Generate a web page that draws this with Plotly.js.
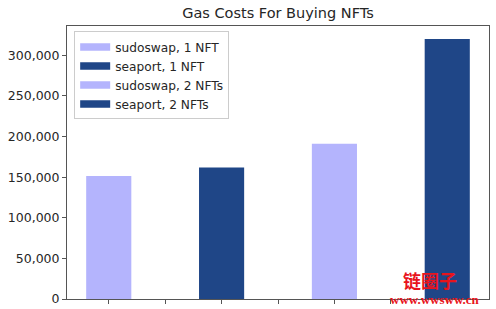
<!DOCTYPE html>
<html>
<head>
<meta charset="utf-8">
<script src="https://cdn.plot.ly/plotly-3.0.1.min.js"></script>
<style>html,body{margin:0;padding:0;background:#fff;}#chart{width:496px;height:309px;}</style>
</head>
<body>
<div id="chart"></div>
<script>
const seriesNames = ['sudoswap, 1 NFT', 'seaport, 1 NFT', 'sudoswap, 2 NFTs', 'seaport, 2 NFTs'];
const gasCosts = [151500, 162000, 191000, 320000];
const barPositions = [0, 1, 2, 3];
const barColors = ['#b4b4fd', '#1f4687', '#b4b4fd', '#1f4687'];
const xTickVals = [0, 0.5, 1, 1.5, 2, 2.5, 3];
const yTickVals = [0, 50000, 100000, 150000, 200000, 250000, 300000];

const barTraces = seriesNames.map((name, i) => ({
  type: 'bar',
  name: name,
  x: [barPositions[i]],
  y: [gasCosts[i]],
  width: 0.4,
  marker: {color: barColors[i], line: {width: 0}},
  showlegend: false,
  hoverinfo: 'skip'
}));

// legend-only entries with wide patch-like symbols (matplotlib style)
const legendTraces = seriesNames.map((name, i) => ({
  type: 'scatter',
  mode: 'lines',
  name: name,
  x: [barPositions[i]],
  y: [null],
  line: {color: barColors[i], width: 7.5},
  showlegend: true,
  hoverinfo: 'skip'
}));

const font = {family: 'DejaVu Sans, sans-serif', color: '#262626'};

const layout = {
  width: 496, height: 309,
  margin: {l: 67, r: 7, t: 26, b: 10, pad: 0},
  paper_bgcolor: '#fff', plot_bgcolor: '#fff',
  barmode: 'overlay',
  showlegend: true,
  font: Object.assign({size: 12.5}, font),
  title: {text: 'Gas Costs For Buying NFTs', x: 0.5605, xanchor: 'center', y: 0.958, yanchor: 'middle',
          font: Object.assign({size: 14.5}, font)},
  xaxis: {
    range: [-0.37, 3.37], tickvals: xTickVals, ticktext: xTickVals.map(() => ''),
    ticks: 'outside', ticklen: 4, tickcolor: '#555', tickwidth: 1,
    showline: true, linecolor: '#555', linewidth: 1, mirror: true,
    showgrid: false, zeroline: false, fixedrange: true
  },
  yaxis: {
    range: [0, 336000], tickvals: yTickVals, tickformat: ',d',
    ticks: 'outside', ticklen: 4, tickcolor: '#555', tickwidth: 1,
    showline: true, linecolor: '#555', linewidth: 1, mirror: true,
    showgrid: false, zeroline: false, fixedrange: true,
    tickfont: Object.assign({size: 12.5}, font)
  },
  legend: {
    x: 0.017, y: 0.98, xanchor: 'left', yanchor: 'top',
    bgcolor: 'rgba(255,255,255,0.8)', bordercolor: '#cccccc', borderwidth: 1,
    font: Object.assign({size: 12.2}, font),
    tracegroupgap: 0, itemwidth: 30
  },
  annotations: [
    {text: '<b>链圈子</b>', xref: 'paper', yref: 'paper', x: 0.86, y: 0.07, xanchor: 'center', yanchor: 'middle',
     showarrow: false, font: {family: 'Noto Sans CJK SC', size: 18, color: '#e8141c'}},
    {text: '<b>www.wwsww.cn</b>', xref: 'paper', yref: 'paper', x: 0.872, y: 0.0, xanchor: 'center', yanchor: 'middle',
     showarrow: false, font: {family: 'Liberation Serif', size: 13, color: '#e8141c'}}
  ]
};

Plotly.newPlot('chart', barTraces.concat(legendTraces), layout, {staticPlot: true, displayModeBar: false});
</script>
</body>
</html>
